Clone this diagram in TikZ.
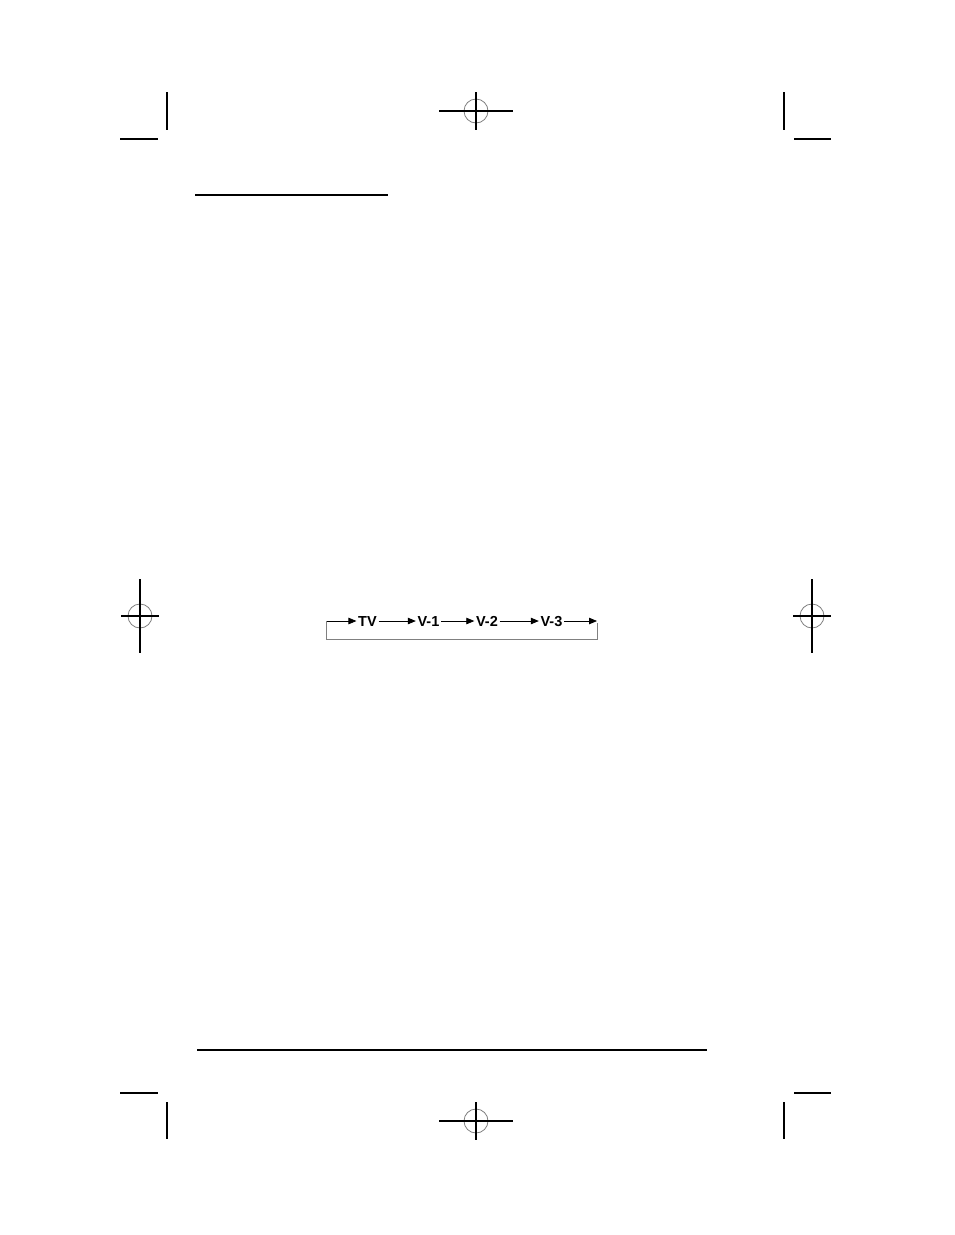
\documentclass[tikz,border=0pt]{standalone}
\usepackage{fontspec}
\setmainfont{Liberation Sans}
\usetikzlibrary{arrows.meta}
\begin{document}
\begin{tikzpicture}[x=1pt,y=-1pt,
  cropmark/.style={line width=1.6pt,black},
  regring/.style={line width=0.8pt,gray},
  ruleline/.style={line width=1.6pt,black},
  label/.style={font=\fontsize{14.5}{16}\selectfont\bfseries,inner sep=1.6pt,anchor=center,
    text height=10.4pt,text depth=0pt},
  flow/.style={line width=0.8pt,black,-{Triangle[length=8pt,width=6.5pt]}},
  loopline/.style={line width=0.6pt,gray}]
\useasboundingbox[fill=white] (0,0) rectangle (954,1235);

% crop marks top
\draw[cropmark] (167,92) -- (167,130);
\draw[cropmark] (120,139) -- (158,139);
\draw[cropmark] (784,92) -- (784,130);
\draw[cropmark] (794,139) -- (831,139);
% crop marks bottom
\draw[cropmark] (120,1093) -- (158,1093);
\draw[cropmark] (167,1102) -- (167,1139);
\draw[cropmark] (794,1093) -- (831,1093);
\draw[cropmark] (784,1102) -- (784,1139);

% registration marks
\foreach \cx/\cy/\hx/\vy in {476/111/37/19, 476/1121/37/19, 140/616/19/37, 812/616/19/37}{
  \draw[regring] (\cx,\cy) circle[radius=12];
  \draw[cropmark,line width=1.4pt] (\cx-\hx,\cy) -- (\cx+\hx,\cy);
  \draw[cropmark,line width=1.4pt] (\cx,\cy-\vy) -- (\cx,\cy+\vy);
}

% header / footer rules
\draw[ruleline] (195,195) -- (388,195);
\draw[ruleline] (197,1050) -- (707,1050);

% flow diagram
\coordinate (start) at (326,621);
\coordinate (finish) at (597,621);
\node[label] (tv) at (367.5,621) {TV};
\node[label] (v1) at (428.5,621) {V-1};
\node[label] (v2) at (487,621) {V-2};
\node[label] (v3) at (551.5,621) {V-3};
\draw[flow] (start) -- (tv);
\draw[flow] (tv) -- (v1);
\draw[flow] (v1) -- (v2);
\draw[flow] (v2) -- (v3);
\draw[flow] (v3) -- (finish);
\draw[loopline] ([yshift=-2pt]finish) -- ++(0,16) -| (start);
\end{tikzpicture}
\end{document}
